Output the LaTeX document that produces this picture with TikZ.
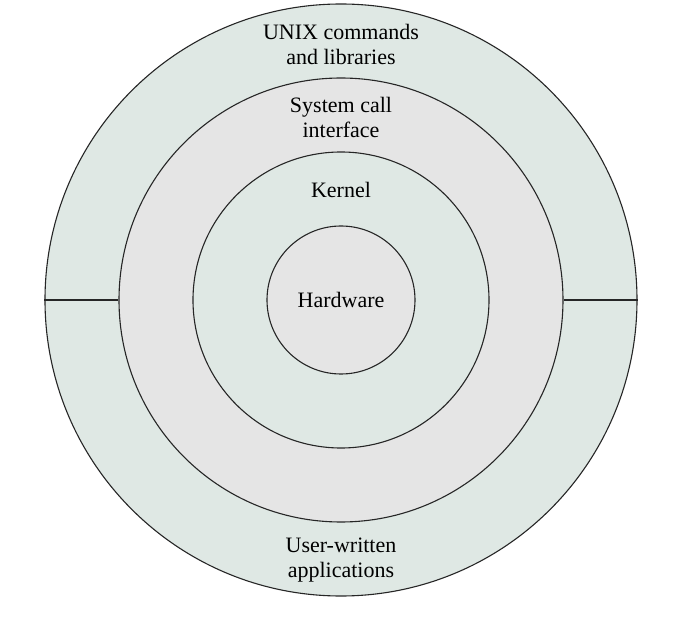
\documentclass[tikz,border=0pt]{standalone}
\usepackage{fontspec}
\setmainfont{Liberation Serif}
\definecolor{ringgreen}{HTML}{DFE8E4}
\definecolor{ringgray}{HTML}{E5E5E5}
\begin{document}
\begin{tikzpicture}[x=1pt,y=1pt,
  ring/.style={draw=black!85,line width=1.1pt},
  lbl/.style={font=\fontsize{22}{25}\selectfont,align=center,text=black}]
\useasboundingbox (-341,-318) rectangle (347,300);
\fill[white] (-341,-318) rectangle (347,300);
\node[ring,circle,fill=ringgreen,minimum size=592pt,inner sep=0pt] (c1) at (0,0) {};
\node[ring,circle,fill=ringgray,minimum size=444pt,inner sep=0pt] (c2) at (0,0) {};
\node[ring,circle,fill=ringgreen,minimum size=296pt,inner sep=0pt] (c3) at (0,0) {};
\node[ring,circle,fill=ringgray,minimum size=148pt,inner sep=0pt] (c4) at (0,0) {};
\draw[ring] (c1.west) -- (c2.west);
\draw[ring] (c1.east) -- (c2.east);
\node[lbl] (t1) at (0,256) {UNIX commands\\and libraries};
\node[lbl] (t2) at (0,183) {System call\\interface};
\node[lbl] (t3) at (0,110) {Kernel};
\node[lbl] (t4) at (0,0) {Hardware};
\node[lbl] (t5) at (0,-260) {User-written\\applications};
\end{tikzpicture}
\end{document}
